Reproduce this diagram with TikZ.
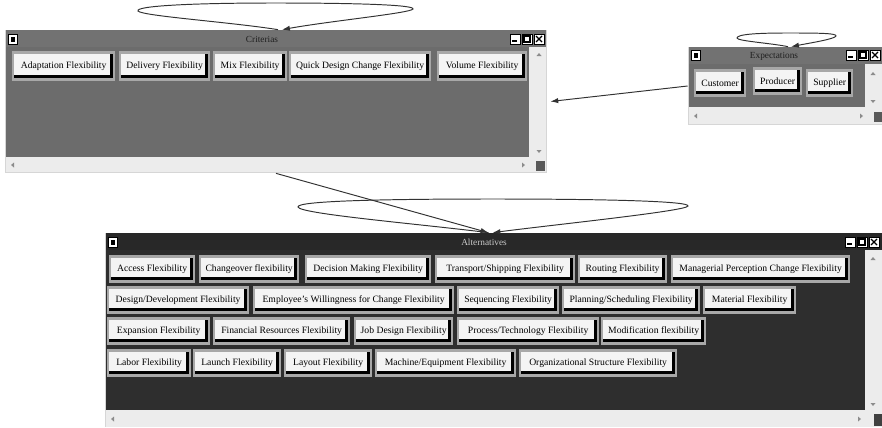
\documentclass[tikz,border=0pt]{standalone}
\usepackage{fontspec}
\setmainfont{Liberation Serif}
\usetikzlibrary{arrows.meta,calc,positioning,fit}
\definecolor{wnframe}{RGB}{214,214,214}
\definecolor{wnscroll}{RGB}{236,236,236}
\definecolor{wngray}{RGB}{108,108,108}
\definecolor{wnbar}{RGB}{114,114,114}
\definecolor{wndark}{RGB}{46,46,46}
\definecolor{wndarkbar}{RGB}{40,40,40}
\definecolor{btface}{RGB}{244,244,244}
\definecolor{btframe}{RGB}{168,168,168}
\definecolor{arrgray}{RGB}{50,50,50}
\newcommand{\pxu}{0.02cm}

\begin{document}
\begin{tikzpicture}[
  x=0.02cm, y=-0.02cm,
  every node/.style={font=\fontsize{5.5}{6.5}\selectfont},
  btn/.style={draw=btframe, line width=1.3pt, fill=btface, inner sep=0pt,
    minimum height=25*\pxu, anchor=west,
    path picture={\draw[black, line width=4.6pt]
      (path picture bounding box.south west) -- (path picture bounding box.south east)
      -- (path picture bounding box.north east);}},
  wtitle/.style={font=\fontsize{5.3}{6}\selectfont, text=black!88},
  arr/.style={-{Latex[length=4.5pt, width=3pt]}, draw=arrgray, line width=0.55pt},
  tbox/.style={fill=white, draw=black, line width=0.4pt},
  scrmark/.style={fill=black!45}
]
  \useasboundingbox (0,0) rectangle (882,427);

  % --- Criterias window
  \node[fit={(5,30) (547,173)}, inner sep=0pt, fill=wnframe] (crit) {};
  \fill[wnbar] (6,30) rectangle (546,47);
  \fill[wngray] (6,47) rectangle (529,157);
  \fill[wnscroll] (529,47) rectangle (546,172);
  \fill[wnscroll] (6,157) rectangle (546,172);
  \fill[black!65] (536,161) rectangle (545,171);
  \node[wtitle] (crittitle) at (262,39) {Criterias};

  \node[btn, minimum height=27*\pxu, minimum width=101*\pxu] (adapt) at (12,66) {Adaptation Flexibility};
  \node[btn, minimum height=27*\pxu, minimum width=89*\pxu] (delivery) at (119,66) {Delivery Flexibility};
  \node[btn, minimum height=27*\pxu, minimum width=72*\pxu] (mix) at (213,66) {Mix Flexibility};
  \node[btn, minimum height=27*\pxu, minimum width=140*\pxu] (quick) at (289,66) {Quick Design Change Flexibility};
  \node[btn, minimum height=27*\pxu, minimum width=88*\pxu] (volume) at (437,66) {Volume Flexibility};

  % --- Expectations window
  \node[fit={(688,47) (882,125)}, inner sep=0pt, fill=wnframe] (expt) {};
  \fill[wnbar] (689,47) rectangle (882,64);
  \fill[wngray] (689,64) rectangle (865,107);
  \fill[wnscroll] (865,64) rectangle (882,124);
  \fill[wnscroll] (689,107) rectangle (882,124);
  \fill[black!65] (874,112) rectangle (882,122);
  \node[wtitle] (expttitle) at (774,56) {Expectations};

  \node[btn, minimum width=50*\pxu] (customer) at (694,83) {Customer};
  \node[btn, minimum width=47*\pxu] (producer) at (753,81) {Producer};
  \node[btn, minimum width=45*\pxu] (supplier) at (806,83) {Supplier};

  % --- Alternatives window
  \node[fit={(105,233) (882,427)}, inner sep=0pt, fill=wnframe] (alt) {};
  \fill[wndarkbar] (106,233) rectangle (882,250);
  \fill[wndark] (106,250) rectangle (865,410);
  \fill[wnscroll] (865,250) rectangle (882,427);
  \fill[wnscroll] (106,410) rectangle (882,427);
  \fill[black!75] (874,414) rectangle (882,426);
  \node[wtitle, text=black!20] (alttitle) at (484,242) {Alternatives};

  \node[btn, minimum width=84*\pxu] (access) at (109,269) {Access Flexibility};
  \node[btn, minimum width=98*\pxu] (changeover) at (199,269) {Changeover flexibility};
  \node[btn, minimum width=124*\pxu] (decision) at (305,269) {Decision Making Flexibility};
  \node[btn, minimum width=138*\pxu] (transport) at (435,269) {Transport/Shipping Flexibility};
  \node[btn, minimum width=87*\pxu] (routing) at (578,269) {Routing Flexibility};
  \node[btn, minimum width=177*\pxu] (managerial) at (671,269) {Managerial Perception Change Flexibility};

  \node[btn, minimum width=140*\pxu] (design) at (107,300) {Design/Development Flexibility};
  \node[btn, minimum width=199*\pxu] (employee) at (253,300) {Employee's Willingness for Change Flexibility};
  \node[btn, minimum width=100*\pxu] (sequencing) at (457,300) {Sequencing Flexibility};
  \node[btn, minimum width=136*\pxu] (planning) at (562,300) {Planning/Scheduling Flexibility};
  \node[btn, minimum width=91*\pxu] (material) at (703,300) {Material Flexibility};

  \node[btn, minimum width=101*\pxu] (expansion) at (107,331) {Expansion Flexibility};
  \node[btn, minimum width=135*\pxu] (financial) at (213,331) {Financial Resources Flexibility};
  \node[btn, minimum width=97*\pxu] (jobdesign) at (354,331) {Job Design Flexibility};
  \node[btn, minimum width=140*\pxu] (process) at (457,331) {Process/Technology Flexibility};
  \node[btn, minimum width=103*\pxu] (modification) at (601,331) {Modification flexibility};

  \node[btn, minimum width=82*\pxu] (labor) at (107,363) {Labor Flexibility};
  \node[btn, minimum width=86*\pxu] (launch) at (193,363) {Launch Flexibility};
  \node[btn, minimum width=86*\pxu] (layout) at (284,363) {Layout Flexibility};
  \node[btn, minimum width=139*\pxu] (machine) at (375,363) {Machine/Equipment Flexibility};
  \node[btn, minimum width=156*\pxu] (organizational) at (519,363) {Organizational Structure Flexibility};

  % title bar icons and scroll marks
  \foreach \xl/\yt in {5/34, 688/50, 105/237} {
    \fill[tbox] (\xl+3,\yt) rectangle (\xl+12,\yt+10);
    \fill[black] (\xl+5.5,\yt+2.5) rectangle (\xl+9.5,\yt+7.5);
  }
  \foreach \xr/\yt in {546/34, 882/50, 881/237} {
    \filldraw[tbox] (\xr-36,\yt) rectangle (\xr-26,\yt+10);
    \filldraw[tbox] (\xr-24,\yt) rectangle (\xr-14,\yt+10);
    \filldraw[tbox] (\xr-12,\yt) rectangle (\xr-2,\yt+10);
    \draw[line width=1pt] (\xr-34,\yt+7) -- (\xr-29,\yt+7);
    \draw[line width=0.6pt] (\xr-22,\yt+2) rectangle (\xr-16,\yt+8);
    \draw[line width=0.7pt] (\xr-10,\yt+2) -- (\xr-4,\yt+8) (\xr-10,\yt+8) -- (\xr-4,\yt+2);
  }
  \foreach \xa/\xb/\yb in {6/522/165, 689/860/116, 106/858/419} {
    \fill[scrmark] (\xa+5,\yb) -- (\xa+8,\yb-2.5) -- (\xa+8,\yb+2.5) -- cycle;
    \fill[scrmark] (\xb+3,\yb) -- (\xb,\yb-2.5) -- (\xb,\yb+2.5) -- cycle;
  }
  \foreach \xv/\ya/\yb in {539/53/150, 873/72/100, 873/257/403} {
    \fill[scrmark] (\xv,\ya) -- (\xv-2.5,\ya+3) -- (\xv+2.5,\ya+3) -- cycle;
    \fill[scrmark] (\xv,\yb+3) -- (\xv-2.5,\yb) -- (\xv+2.5,\yb) -- cycle;
  }

  % connectors
  \draw[arr] ([xshift=0.04cm]crit.north) .. controls (230,22) and (142,16) .. (138,11)
    .. controls (135,6) and (190,3) .. (275,3) .. controls (360,3) and (415,5) .. (413,9)
    .. controls (411,13) and (330,21) .. ([xshift=0.12cm]crit.north);
  \draw[arr] ([xshift=0.06cm]expt.north) .. controls (770,43) and (737,41) .. (737,38)
    .. controls (737,34) and (760,33) .. (787,33) .. controls (815,33) and (837,33) .. (836,36)
    .. controls (835,39) and (810,43) .. ([xshift=0.12cm]expt.north);
  \draw[arr] ([xshift=-0.1cm]alt.north) .. controls (420,224) and (300,214) .. (298,207)
    .. controls (296,201) and (380,199) .. (493,199) .. controls (600,199) and (690,201) .. (688,206)
    .. controls (686,211) and (560,224) .. ([xshift=-0.02cm]alt.north);
  \draw[arr] (expt.west) -- ($(crit.east)+(3,0)$);
  \draw[arr] (crit.south) -- ([xshift=-0.1cm]alt.north);
\end{tikzpicture}
\end{document}
